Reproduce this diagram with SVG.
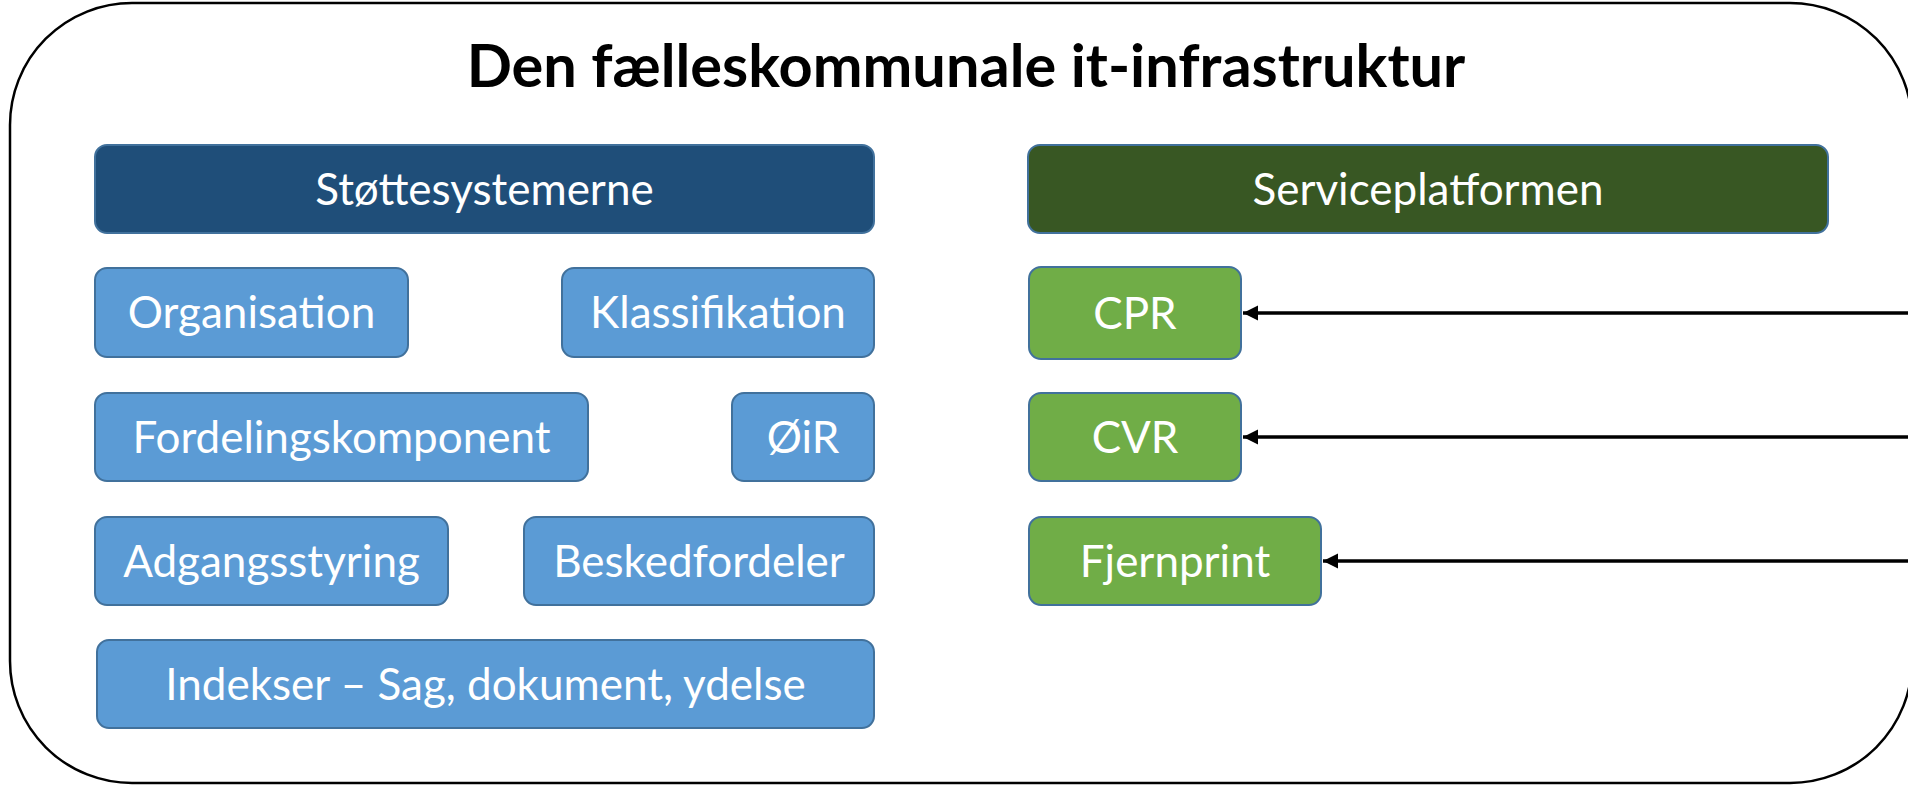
<svg xmlns="http://www.w3.org/2000/svg" width="1908" height="786" viewBox="0 0 1908 786">
  <defs>
    <marker id="arrow" viewBox="0 0 10 10" refX="10" refY="5" markerWidth="4.4" markerHeight="4.4" markerUnits="strokeWidth" orient="auto">
      <path d="M0,0 L10,5 L0,10 Z" fill="#000"/>
    </marker>
  </defs>
  <style>
    .frame { fill: #ffffff; stroke: #000000; stroke-width: 2.5; }
    .title { font-family: Lato, "Liberation Sans", sans-serif; font-weight: bold; font-size: 59.5px; fill: #000000; }
    .box { stroke: #41719C; stroke-width: 2; }
    .hdrBlue { fill: #1F4E79; }
    .hdrGreen { fill: #385723; }
    .blue { fill: #5B9BD5; }
    .green { fill: #70AD47; }
    .lbl { font-family: Lato, "Liberation Sans", sans-serif; font-size: 44px; fill: #ffffff; text-anchor: middle; }
    .conn { stroke: #000000; stroke-width: 3.5; fill: none; marker-end: url(#arrow); }
  </style>

  <rect class="frame" x="10" y="3" width="1902" height="780" rx="122" ry="122"/>
  <text class="title" x="966" y="87" text-anchor="middle">Den fælleskommunale it-infrastruktur</text>

  <g id="stottesystemerne">
    <rect class="box hdrBlue" x="95" y="145" width="779" height="88" rx="12"/>
    <text class="lbl" x="484.5" y="205">Støttesystemerne</text>
  </g>
  <g id="organisation">
    <rect class="box blue" x="95" y="268" width="313" height="89" rx="12"/>
    <text class="lbl" x="251.5" y="328">Organisation</text>
  </g>
  <g id="klassifikation">
    <rect class="box blue" x="562" y="268" width="312" height="89" rx="12"/>
    <text class="lbl" x="718" y="328">Klassifikation</text>
  </g>
  <g id="fordelingskomponent">
    <rect class="box blue" x="95" y="393" width="493" height="88" rx="12"/>
    <text class="lbl" x="341.5" y="453">Fordelingskomponent</text>
  </g>
  <g id="oir">
    <rect class="box blue" x="732" y="393" width="142" height="88" rx="12"/>
    <text class="lbl" x="803" y="453">ØiR</text>
  </g>
  <g id="adgangsstyring">
    <rect class="box blue" x="95" y="517" width="353" height="88" rx="12"/>
    <text class="lbl" x="271.5" y="577">Adgangsstyring</text>
  </g>
  <g id="beskedfordeler">
    <rect class="box blue" x="524" y="517" width="350" height="88" rx="12"/>
    <text class="lbl" x="699" y="577">Beskedfordeler</text>
  </g>
  <g id="indekser">
    <rect class="box blue" x="97" y="640" width="777" height="88" rx="12"/>
    <text class="lbl" x="485.5" y="700">Indekser – Sag, dokument, ydelse</text>
  </g>

  <g id="serviceplatformen">
    <rect class="box hdrGreen" x="1028" y="145" width="800" height="88" rx="12"/>
    <text class="lbl" x="1428" y="205">Serviceplatformen</text>
  </g>
  <g id="cpr">
    <rect class="box green" x="1029" y="267" width="212" height="92" rx="12"/>
    <text class="lbl" x="1135" y="329">CPR</text>
  </g>
  <g id="cvr">
    <rect class="box green" x="1029" y="393" width="212" height="88" rx="12"/>
    <text class="lbl" x="1135" y="453">CVR</text>
  </g>
  <g id="fjernprint">
    <rect class="box green" x="1029" y="517" width="292" height="88" rx="12"/>
    <text class="lbl" x="1175" y="577">Fjernprint</text>
  </g>

  <g id="connectors">
    <line class="conn" x1="1912" y1="313" x2="1243" y2="313"/>
    <line class="conn" x1="1912" y1="437" x2="1243" y2="437"/>
    <line class="conn" x1="1912" y1="561" x2="1323" y2="561"/>
  </g>
</svg>
